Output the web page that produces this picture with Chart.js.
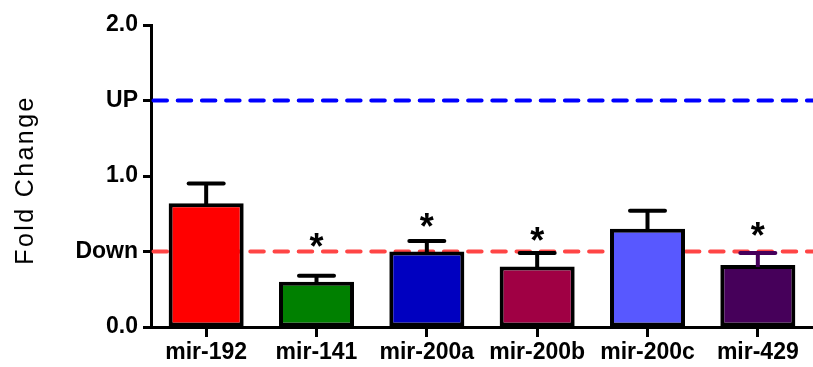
<!DOCTYPE html>
<html>
<head>
<meta charset="utf-8">
<script src="https://cdn.jsdelivr.net/npm/chart.js@4/dist/chart.umd.min.js"></script>
<style>
  html, body { margin: 0; padding: 0; background: #ffffff; }
  canvas { display: block; }
</style>
</head>
<body>
<canvas id="foldChart" width="813" height="367"></canvas>
<script>
// microRNA fold change, mean with upper error
const mirnas = ["mir-192", "mir-141", "mir-200a", "mir-200b", "mir-200c", "mir-429"];
const foldChange = [0.82, 0.30, 0.50, 0.40, 0.65, 0.41];
const foldError = [0.13, 0.04, 0.07, 0.09, 0.12, 0.08];
// level of the significance star for each miRNA (null = not significant)
const starLevel = [null, 0.59, 0.72, 0.63, null, 0.66];
// y tick values and their labels
const yTickValues = [0.0, 0.5, 1.0, 1.5, 2.0];
const yTickLabels = ["0.0", "Down", "1.0", "UP", "2.0"];
// threshold lines
const upLevel = 1.5;
const downLevel = 0.5;
const yAxisTitle = "Fold Change";

const barColors = ["#ff0000", "#008000", "#0000c0", "#a00044", "#5858ff", "#46005a"];
const errColors = ["#000000", "#000000", "#000000", "#000000", "#000000", "#46005a"];
const FONT = "'Liberation Sans', Arial, sans-serif";

const thresholdLines = {
  id: "thresholdLines",
  beforeDatasetsDraw(chart) {
    const { ctx, chartArea, scales } = chart;
    const draw = (val, color) => {
      const y = scales.y.getPixelForValue(val);
      ctx.save();
      ctx.strokeStyle = color;
      ctx.lineWidth = 4;
      ctx.lineCap = "round";
      ctx.setLineDash([13.5, 10.7]);
      ctx.beginPath();
      ctx.moveTo(chartArea.left + 2.5, y);
      ctx.lineTo(chart.width, y);
      ctx.stroke();
      ctx.restore();
    };
    draw(downLevel, "#ff4545");
    draw(upLevel, "#0000ff");
  }
};

// rotated y-axis title, letter-spaced
const axisTitle = {
  id: "axisTitle",
  afterDraw(chart) {
    const { ctx, chartArea } = chart;
    ctx.save();
    ctx.translate(26, (chartArea.top + chartArea.bottom) / 2 + 4);
    ctx.rotate(-Math.PI / 2);
    ctx.fillStyle = "#000000";
    ctx.font = "25px " + FONT;
    ctx.letterSpacing = "2.4px";
    ctx.textAlign = "center";
    ctx.textBaseline = "middle";
    ctx.fillText(yAxisTitle, 0, 0);
    ctx.restore();
  }
};

const errorBars = {
  id: "errorBars",
  afterDatasetsDraw(chart) {
    const { ctx, scales } = chart;
    const meta = chart.getDatasetMeta(0);
    meta.data.forEach((bar, i) => {
      const yTop = scales.y.getPixelForValue(foldChange[i]);
      const yCap = scales.y.getPixelForValue(foldChange[i] + foldError[i]);
      ctx.save();
      ctx.strokeStyle = errColors[i];
      ctx.lineWidth = 4;
      ctx.lineCap = "butt";
      ctx.beginPath();
      ctx.moveTo(bar.x, yTop + 2);
      ctx.lineTo(bar.x, yCap);
      ctx.stroke();
      ctx.lineCap = "round";
      ctx.beginPath();
      ctx.moveTo(bar.x - 17.5, yCap);
      ctx.lineTo(bar.x + 17.5, yCap);
      ctx.stroke();
      ctx.restore();
    });
    // significance stars
    ctx.save();
    ctx.fillStyle = "#000000";
    ctx.font = "bold 36px " + FONT;
    ctx.textAlign = "center";
    ctx.textBaseline = "alphabetic";
    meta.data.forEach((bar, i) => {
      if (starLevel[i] === null) return;
      const y = scales.y.getPixelForValue(starLevel[i]);
      ctx.fillText("*", bar.x, y + 21);
    });
    ctx.restore();
  }
};

new Chart(document.getElementById("foldChart"), {
  type: "bar",
  data: {
    labels: mirnas,
    datasets: [{
      data: foldChange,
      backgroundColor: barColors,
      borderColor: "#000000",
      borderWidth: 4,
      borderSkipped: false,
      barPercentage: 0.68,
      categoryPercentage: 1.0
    }]
  },
  options: {
    responsive: false,
    devicePixelRatio: 1,
    animation: false,
    layout: { padding: { top: 25, left: 0, right: 0, bottom: 0 } },
    plugins: { legend: { display: false }, tooltip: { enabled: false } },
    scales: {
      x: {
        offset: true,
        afterFit(scale) { scale.height = 40; },
        border: { display: true, color: "#000000", width: 3 },
        grid: {
          offset: false,
          drawOnChartArea: false,
          drawTicks: true,
          tickLength: 10,
          tickWidth: 3,
          tickColor: "#000000"
        },
        ticks: {
          color: "#000000",
          font: { family: FONT, size: 23, weight: "bold" },
          padding: 2,
          maxRotation: 0,
          autoSkip: false
        }
      },
      y: {
        min: 0,
        max: 2,
        afterFit(scale) { scale.width = 151; },
        afterBuildTicks(scale) {
          scale.ticks = yTickValues.map(v => ({ value: v }));
        },
        border: { display: true, color: "#000000", width: 3 },
        grid: {
          drawOnChartArea: false,
          drawTicks: true,
          tickLength: 8,
          tickWidth: 3,
          tickColor: "#000000"
        },
        ticks: {
          color: "#000000",
          font: { family: FONT, size: 23, weight: "bold" },
          padding: 5,
          callback(value) {
            const idx = yTickValues.indexOf(value);
            return idx >= 0 ? yTickLabels[idx] : "";
          }
        }
      }
    }
  },
  plugins: [thresholdLines, errorBars, axisTitle]
});
</script>
</body>
</html>
